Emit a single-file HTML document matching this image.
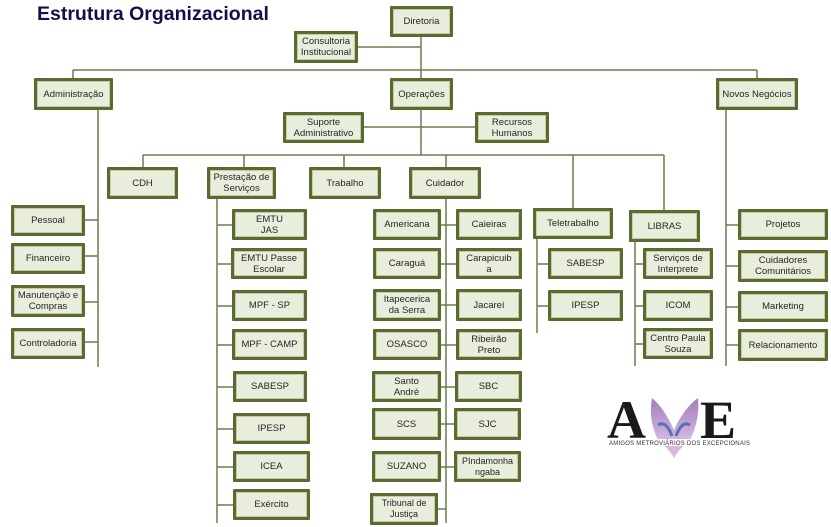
<!DOCTYPE html>
<html><head><meta charset="utf-8"><style>
body{margin:0;width:831px;height:527px;background:#fff;position:relative;overflow:hidden;font-family:"Liberation Sans",sans-serif}
.b{position:absolute;box-sizing:border-box;border:3px solid #5a6b30;box-shadow:inset 0 0 0 1px #c2cca6;background:#e8eddc;display:flex;align-items:center;justify-content:center;text-align:center;font-size:9.5px;line-height:11px;color:#262626;border-radius:1px}
svg{position:absolute;left:0;top:0}
.t{position:absolute;left:37px;top:3px;font-weight:bold;font-size:19.5px;color:#11114a}
</style></head><body>
<svg width="831" height="527"><g stroke="#6d7b4d" stroke-width="1.5" fill="none">
<path d="M421 37V155M358 47H421M73 70H757M73 70V78M757 70V78M364 127H475M143 155H664M143 155V167M244 155V167M344 155V167M446 155V167M573 155V208M664 155V210"/>
<path d="M98 110V367M85 220H98M85 256H98M85 302H98M85 342H98"/>
<path d="M217 199V523M217 225H232M217 264H231M217 306H232M217 345H232M217 387H233M217 429H233M217 467H233M217 505H233"/>
<path d="M446 199V523M441 225H456M441 264H456M441 305H456M441 345H456M441 387H456M441 424H456M441 467H456M438 509H446"/>
<path d="M537 238V333M537 264H548M537 306H548"/>
<path d="M635 242V366M635 264H643M635 306H643M635 344H643"/>
<path d="M726 110V366M726 225H738M726 266H738M726 307H738M726 345H738"/>
</g></svg>
<div class="t">Estrutura Organizacional</div>
<div class="b" style="left:390px;top:6px;width:63px;height:31px">Diretoria</div>
<div class="b" style="left:294px;top:31px;width:64px;height:32px">Consultoria<br>Institucional</div>
<div class="b" style="left:34px;top:78px;width:79px;height:32px">Administração</div>
<div class="b" style="left:390px;top:78px;width:63px;height:32px">Operações</div>
<div class="b" style="left:716px;top:78px;width:82px;height:32px">Novos Negócios</div>
<div class="b" style="left:283px;top:112px;width:81px;height:31px">Suporte<br>Administrativo</div>
<div class="b" style="left:475px;top:112px;width:74px;height:31px">Recursos<br>Humanos</div>
<div class="b" style="left:107px;top:167px;width:71px;height:32px">CDH</div>
<div class="b" style="left:207px;top:167px;width:69px;height:32px">Prestação de<br>Serviços</div>
<div class="b" style="left:309px;top:167px;width:72px;height:32px">Trabalho</div>
<div class="b" style="left:409px;top:167px;width:72px;height:32px">Cuidador</div>
<div class="b" style="left:533px;top:208px;width:80px;height:31px">Teletrabalho</div>
<div class="b" style="left:629px;top:210px;width:71px;height:32px">LIBRAS</div>
<div class="b" style="left:11px;top:205px;width:74px;height:31px">Pessoal</div>
<div class="b" style="left:11px;top:243px;width:74px;height:31px">Financeiro</div>
<div class="b" style="left:11px;top:285px;width:74px;height:32px">Manutenção e<br>Compras</div>
<div class="b" style="left:11px;top:328px;width:74px;height:31px">Controladoria</div>
<div class="b" style="left:232px;top:209px;width:75px;height:31px">EMTU<br>JAS</div>
<div class="b" style="left:231px;top:248px;width:76px;height:31px">EMTU Passe<br>Escolar</div>
<div class="b" style="left:232px;top:290px;width:75px;height:31px">MPF - SP</div>
<div class="b" style="left:232px;top:329px;width:75px;height:31px">MPF - CAMP</div>
<div class="b" style="left:233px;top:371px;width:74px;height:31px">SABESP</div>
<div class="b" style="left:233px;top:413px;width:77px;height:31px">IPESP</div>
<div class="b" style="left:233px;top:451px;width:77px;height:31px">ICEA</div>
<div class="b" style="left:233px;top:489px;width:77px;height:31px">Exército</div>
<div class="b" style="left:373px;top:209px;width:68px;height:31px">Americana</div>
<div class="b" style="left:456px;top:209px;width:66px;height:31px">Caieiras</div>
<div class="b" style="left:373px;top:248px;width:68px;height:31px">Caraguá</div>
<div class="b" style="left:456px;top:248px;width:66px;height:31px">Carapicuib<br>a</div>
<div class="b" style="left:373px;top:289px;width:68px;height:32px">Itapecerica<br>da Serra</div>
<div class="b" style="left:456px;top:289px;width:66px;height:32px">Jacareí</div>
<div class="b" style="left:373px;top:329px;width:68px;height:31px">OSASCO</div>
<div class="b" style="left:456px;top:329px;width:66px;height:31px">Ribeirão<br>Preto</div>
<div class="b" style="left:372px;top:371px;width:69px;height:31px">Santo<br>André</div>
<div class="b" style="left:455px;top:371px;width:67px;height:31px">SBC</div>
<div class="b" style="left:372px;top:408px;width:69px;height:32px">SCS</div>
<div class="b" style="left:454px;top:408px;width:67px;height:32px">SJC</div>
<div class="b" style="left:372px;top:451px;width:69px;height:31px">SUZANO</div>
<div class="b" style="left:454px;top:451px;width:67px;height:31px;font-size:9px">PIndamonha<br>ngaba</div>
<div class="b" style="left:370px;top:493px;width:68px;height:32px;font-size:9px">Tribunal de<br>Justiça</div>
<div class="b" style="left:548px;top:248px;width:75px;height:31px">SABESP</div>
<div class="b" style="left:548px;top:290px;width:75px;height:31px">IPESP</div>
<div class="b" style="left:643px;top:248px;width:70px;height:31px">Serviços de<br>Interprete</div>
<div class="b" style="left:643px;top:290px;width:70px;height:31px">ICOM</div>
<div class="b" style="left:643px;top:328px;width:70px;height:31px">Centro Paula<br>Souza</div>
<div class="b" style="left:738px;top:209px;width:90px;height:31px">Projetos</div>
<div class="b" style="left:738px;top:250px;width:90px;height:32px">Cuidadores<br>Comunitários</div>
<div class="b" style="left:738px;top:291px;width:90px;height:31px">Marketing</div>
<div class="b" style="left:738px;top:329px;width:90px;height:32px">Relacionamento</div>
<svg width="831" height="527" style="pointer-events:none">
<defs><linearGradient id="g" x1="0" y1="0" x2="0" y2="1"><stop offset="0" stop-color="#8a5fa8"/><stop offset="1" stop-color="#c8a8d8"/></linearGradient></defs>
<path d="M652 398 Q664 408 674 430 Q684 408 698 398 Q700 420 690 440 L674 440 L658 440 Q648 420 652 398Z" fill="url(#g)" opacity="0.8"/>
<path d="M660 442 Q670 450 674 458 Q678 450 688 442Z" fill="#d9b8e0"/>
<path d="M658 425 Q666 420 672 436 M690 425 Q682 420 676 436" stroke="#5a6fb8" stroke-width="3" fill="none"/>
<text x="607" y="438" font-family="Liberation Serif,serif" font-weight="bold" font-size="54" fill="#1a1a1a">A</text>
<text x="700" y="438" font-family="Liberation Serif,serif" font-weight="bold" font-size="54" fill="#1a1a1a">E</text>
<rect x="606" y="439" width="146" height="7" fill="#fff" opacity="0.9"/>
<text x="609" y="445" font-family="Liberation Sans,sans-serif" font-size="6" fill="#333" textLength="141">AMIGOS METROVIÁRIOS DOS EXCEPCIONAIS</text>
</svg>
</body></html>
